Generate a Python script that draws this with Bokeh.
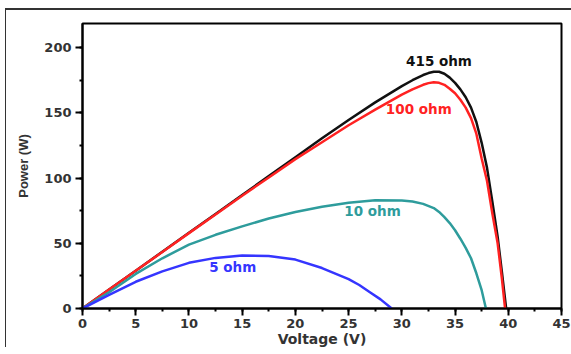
from bokeh.plotting import figure
from bokeh.models import SingleIntervalTicker, Range1d, Label
from bokeh.embed import file_html
from bokeh.resources import INLINE

# Data
v_415 = [0, 2.5, 5, 7.5, 10, 12.5, 15, 17.5, 20, 22.5, 25, 27.5, 30, 31, 32, 32.5, 33, 33.5, 34, 34.5, 35, 35.5, 36, 36.5, 37, 37.5, 38, 38.5, 39, 39.4, 39.8]
p_415 = [0, 14.5, 29, 43.5, 58, 72.5, 87, 101.5, 116, 130.5, 144.5, 158, 170.5, 175, 179, 180.5, 181.5, 181.5, 180, 177, 173, 168, 162, 154, 143, 127, 108, 82, 55, 28, 0]

v_100 = [0, 2.5, 5, 7.5, 10, 12.5, 15, 17.5, 20, 22.5, 25, 27.5, 30, 31, 32, 32.5, 33, 33.5, 34, 34.5, 35, 35.5, 36, 36.5, 37, 37.5, 38, 38.5, 39, 39.4, 39.7]
p_100 = [0, 14.5, 29, 43.3, 57.8, 72, 86.5, 100.5, 114.5, 127.5, 140.5, 152.5, 164, 168, 171.5, 172.8, 173.5, 173, 171.5, 168.5, 165, 160, 154, 146, 134, 115, 98, 73, 50, 23, 0]

v_10 = [0, 2.5, 5, 7.5, 10, 12.5, 15, 17.5, 20, 22.5, 25, 27.5, 30, 31, 32, 33, 33.5, 34, 34.5, 35, 35.5, 36, 36.5, 37, 37.5, 37.9]
p_10 = [0, 12.5, 26.5, 38.5, 49, 56.5, 63, 69, 74, 78, 81, 83, 82.8, 82, 80.2, 77, 74, 70, 65.5, 60, 53.5, 46.5, 38.5, 27, 14, 0]

v_5 = [0, 2.5, 5, 7.5, 10, 12.5, 15, 17.5, 20, 22.5, 25, 26, 27, 28, 29.05]
p_5 = [0, 10.5, 20.5, 28.5, 35, 38.8, 40.7, 40.2, 37.5, 31, 22.5, 18, 12.5, 7, 0]

series_names = ["415 ohm", "100 ohm", "10 ohm", "5 ohm"]
series_colors = ["#111111", "#ff2222", "#2e9c9c", "#3535ff"]
label_x = [30.4, 28.5, 24.6, 11.9]
label_y = [190, 153, 75, 32]

x_label = "Voltage (V)"
y_label = "Power (W)"

p = figure(width=566, height=339, output_backend="svg", toolbar_location=None,
           x_range=Range1d(0, 45), y_range=Range1d(0, 218.5),
           min_border_left=76, min_border_right=11, min_border_top=13, min_border_bottom=38)
p.styles = {"margin-left": "5px", "margin-top": "8px",
            "border-left": "1.5px solid #333", "border-top": "2px solid #333"}

p.grid.visible = False
p.outline_line_color = "black"
p.outline_line_width = 2
p.background_fill_color = "white"
p.border_fill_color = "white"

p.xaxis.ticker = SingleIntervalTicker(interval=5, num_minor_ticks=2)
p.yaxis.ticker = SingleIntervalTicker(interval=50, num_minor_ticks=2)

for ax in (p.xaxis, p.yaxis):
    ax.axis_line_width = 2
    ax.axis_line_color = "black"
    ax.major_tick_line_width = 2
    ax.minor_tick_line_width = 2
    ax.major_tick_line_color = "black"
    ax.minor_tick_line_color = "black"
    ax.major_tick_out = 7
    ax.major_tick_in = 0
    ax.minor_tick_out = 3
    ax.minor_tick_in = 0
    ax.major_label_text_font = "DejaVu Sans"
    ax.major_label_text_font_style = "bold"
    ax.major_label_text_font_size = "13px"
    ax.major_label_text_color = "#333333"
    ax.axis_label_text_font_style = "bold"
    ax.axis_label_text_color = "#333333"

p.xaxis.axis_label = x_label
p.yaxis.axis_label = y_label
p.xaxis.axis_label_text_font = "DejaVu Sans"
p.xaxis.axis_label_text_font_size = "14px"
p.yaxis.axis_label_text_font = "Liberation Sans"
p.yaxis.axis_label_text_font_size = "13px"
p.xaxis.major_label_standoff = 3
p.xaxis.axis_label_standoff = 0
p.yaxis.major_label_standoff = 4
p.yaxis.axis_label_standoff = 10

data = [(v_415, p_415), (v_100, p_100), (v_10, p_10), (v_5, p_5)]
for (vx, py), c in zip(data, series_colors):
    p.line(vx, py, line_color=c, line_width=2.5, line_join="round")

for name, c, lx, ly in zip(series_names, series_colors, label_x, label_y):
    p.add_layout(Label(x=lx, y=ly, text=name, text_color=c, text_font="DejaVu Sans",
                       text_font_style="bold", text_font_size="13.5px",
                       text_baseline="middle", text_align="left"))

open("out.html", "w").write(file_html(p, INLINE))
